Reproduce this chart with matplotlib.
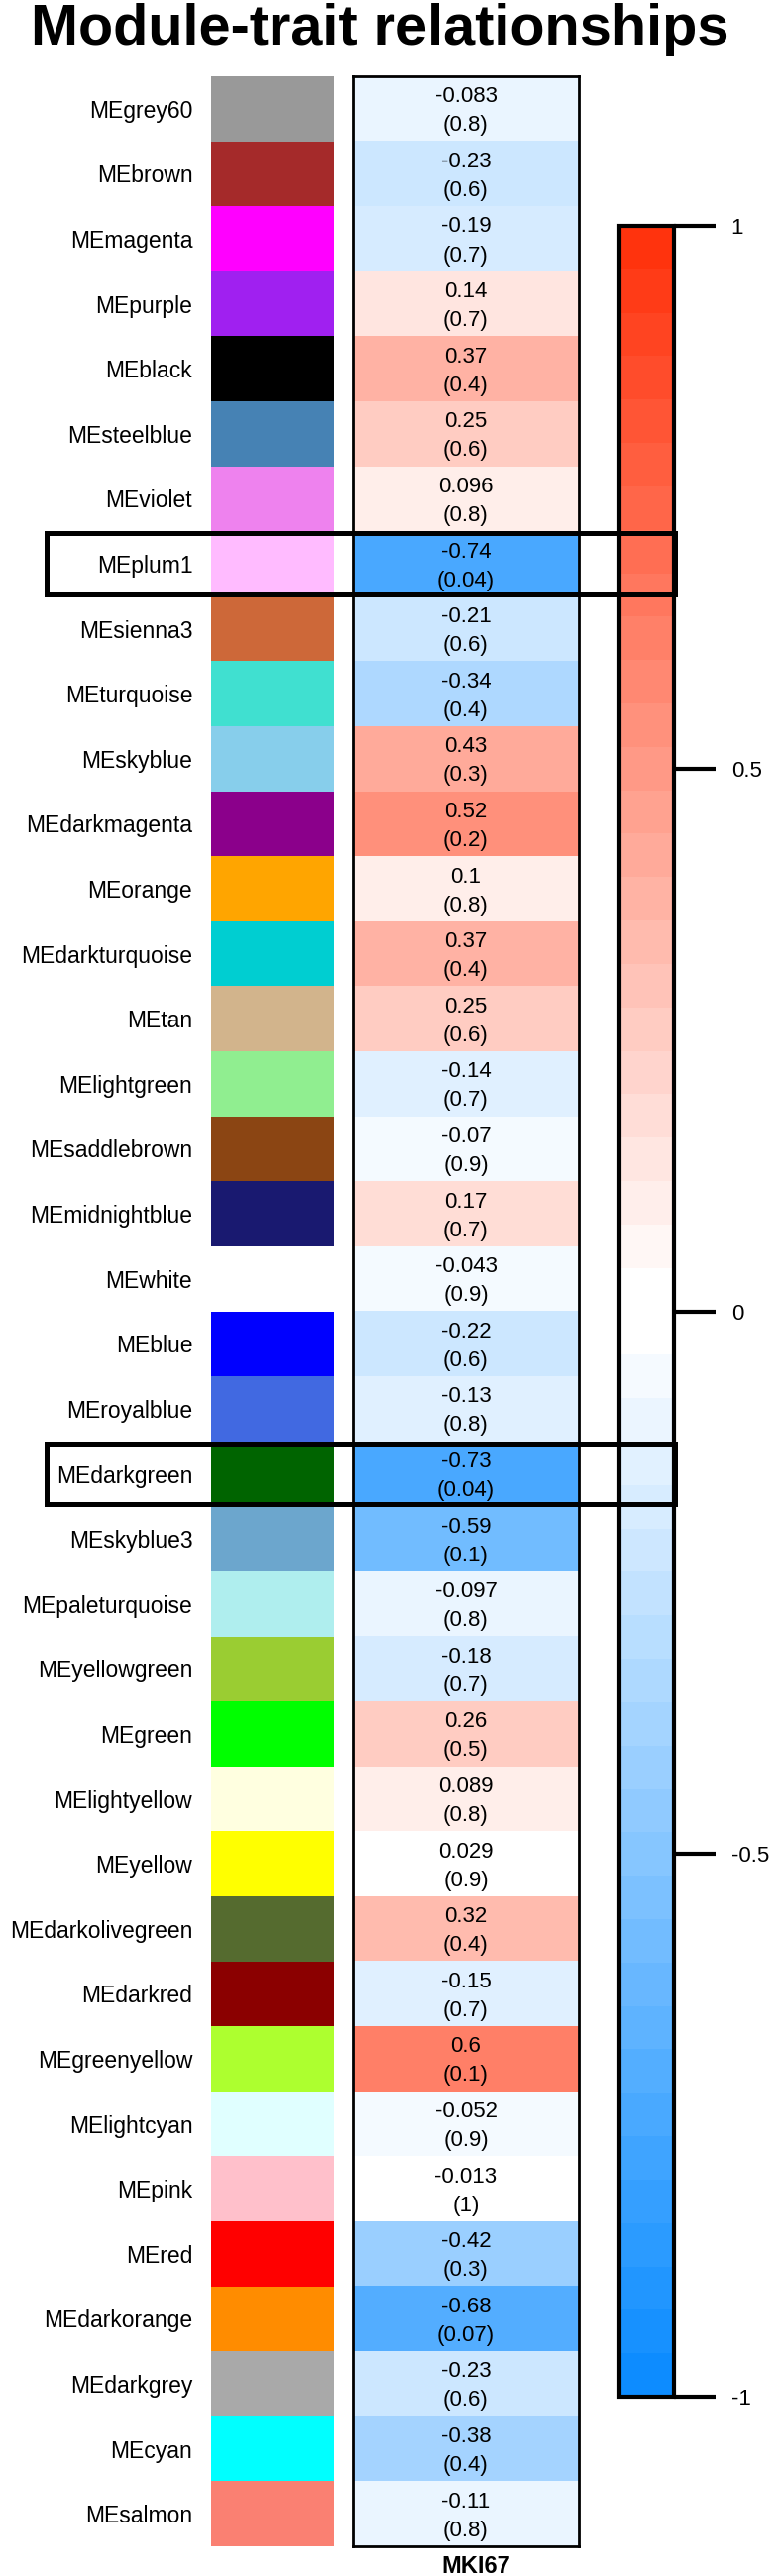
import numpy as np
import matplotlib
matplotlib.use("Agg")
import matplotlib.pyplot as plt
from matplotlib.colors import ListedColormap, Normalize
from matplotlib.cm import ScalarMappable
from matplotlib.patches import Rectangle
from matplotlib.transforms import blended_transform_factory

plt.rcParams['font.family'] = ['Liberation Sans', 'DejaVu Sans']

# ---------------- data ----------------
modules = ["MEgrey60", "MEbrown", "MEmagenta", "MEpurple", "MEblack", "MEsteelblue",
           "MEviolet", "MEplum1", "MEsienna3", "MEturquoise", "MEskyblue", "MEdarkmagenta",
           "MEorange", "MEdarkturquoise", "MEtan", "MElightgreen", "MEsaddlebrown",
           "MEmidnightblue", "MEwhite", "MEblue", "MEroyalblue", "MEdarkgreen", "MEskyblue3",
           "MEpaleturquoise", "MEyellowgreen", "MEgreen", "MElightyellow", "MEyellow",
           "MEdarkolivegreen", "MEdarkred", "MEgreenyellow", "MElightcyan", "MEpink", "MEred",
           "MEdarkorange", "MEdarkgrey", "MEcyan", "MEsalmon"]
module_colors = ["#999999", "#A52A2A", "#FF00FF", "#A020F0", "#000000", "#4682B4",
                 "#EE82EE", "#FFBBFF", "#CD6839", "#40E0D0", "#87CEEB", "#8B008B",
                 "#FFA500", "#00CED1", "#D2B48C", "#90EE90", "#8B4513",
                 "#191970", "#FFFFFF", "#0000FF", "#4169E1", "#006400", "#6CA6CD",
                 "#AFEEEE", "#9ACD32", "#00FF00", "#FFFFE0", "#FFFF00",
                 "#556B2F", "#8B0000", "#ADFF2F", "#E0FFFF", "#FFC0CB", "#FF0000",
                 "#FF8C00", "#A9A9A9", "#00FFFF", "#FA8072"]
corr = [-0.083, -0.23, -0.19, 0.14, 0.37, 0.25,
        0.096, -0.74, -0.21, -0.34, 0.43, 0.52,
        0.1, 0.37, 0.25, -0.14, -0.07,
        0.17, -0.043, -0.22, -0.13, -0.73, -0.59,
        -0.097, -0.18, 0.26, 0.089, 0.029,
        0.32, -0.15, 0.6, -0.052, -0.013, -0.42,
        -0.68, -0.23, -0.38, -0.11]
pvals = [0.8, 0.6, 0.7, 0.7, 0.4, 0.6,
         0.8, 0.04, 0.6, 0.4, 0.3, 0.2,
         0.8, 0.4, 0.6, 0.7, 0.9,
         0.7, 0.9, 0.6, 0.8, 0.04, 0.1,
         0.8, 0.7, 0.5, 0.8, 0.9,
         0.4, 0.7, 0.1, 0.9, 1, 0.3,
         0.07, 0.6, 0.4, 0.8]
trait = "MKI67"
highlighted = ["MEplum1", "MEdarkgreen"]
cbar_ticks = [-1, -0.5, 0, 0.5, 1]
cbar_ticklabels = ["-1", "-0.5", "0", "0.5", "1"]
title = "Module-trait relationships"

# ---------------- colormap (blue-white-red, 50 levels) ----------------
blue_end = np.array([0.05, 0.55, 1.0])
red_end = np.array([1.0, 0.2, 0.05])
white = np.array([1.0, 1.0, 1.0])
half = 25
frac = np.arange(half) / (half - 1)
blues = [blue_end + (white - blue_end) * f for f in frac]
reds = [white + (red_end - white) * f for f in frac]
cmap = ListedColormap(blues + reds)
norm = Normalize(vmin=-1, vmax=1)

# ---------------- figure ----------------
W, H = 788, 2600
fig = plt.figure(figsize=(W / 100, H / 100), dpi=100)

def box(x0, y0, x1, y1):
    return [x0 / W, 1 - y1 / H, (x1 - x0) / W, (y1 - y0) / H]

n = len(modules)
top, bottom = 77, 2570

# module colour column
ax_col = fig.add_axes(box(213, top, 337, bottom))
ax_col.barh(np.arange(n), width=1, height=1, left=0, color=module_colors, linewidth=0)
ax_col.set_xlim(0, 1)
ax_col.set_ylim(n - 0.5, -0.5)
for s in ax_col.spines.values():
    s.set_visible(False)
ax_col.set_xticks([])
ax_col.set_yticks(np.arange(n))
ax_col.set_yticklabels(modules, fontsize=16.5)
ax_col.tick_params(axis='y', length=0, pad=13.5)

# heatmap
ax_h = fig.add_axes(box(356, top, 584, bottom))
ax_h.imshow(np.array(corr).reshape(-1, 1), cmap=cmap, norm=norm, aspect='auto',
            extent=(-0.5, 0.5, n - 0.5, -0.5), interpolation='nearest')
ax_h.set_xlim(-0.5, 0.5)
ax_h.set_ylim(n - 0.5, -0.5)
for s in ax_h.spines.values():
    s.set_linewidth(2)
ax_h.set_yticks([])
ax_h.set_xticks([])
for i, (c, p) in enumerate(zip(corr, pvals)):
    ax_h.annotate(f"{c:g}", (0, i), xytext=(0, 4.7), textcoords='offset points',
                  ha='center', va='baseline', fontsize=16)
    ax_h.annotate(f"({p:g})", (0, i), xytext=(0, -16.2), textcoords='offset points',
                  ha='center', va='baseline', fontsize=16)

# trait label under the heatmap
fig.text(480 / W, 1 - 2597 / H, trait, ha='center', va='baseline',
         fontsize=17, fontweight='bold')

# colour bar
cax = fig.add_axes(box(625, 228, 680, 2419))
cb = fig.colorbar(ScalarMappable(norm=norm, cmap=cmap), cax=cax, ticks=cbar_ticks)
cb.set_ticklabels(cbar_ticklabels)
cb.outline.set_linewidth(3)
cb.ax.tick_params(length=30, width=3, pad=11.5, labelsize=16)

# highlight boxes
tr = blended_transform_factory(fig.transFigure, ax_h.transData)
for name in highlighted:
    i = modules.index(name)
    rect = Rectangle((47 / W, i - 0.47), (681 - 47) / W, 0.94, transform=tr,
                     fill=False, edgecolor='black', linewidth=3.6, zorder=10)
    fig.add_artist(rect)

# title
fig.text(383 / W, 1 - 45 / H, title, ha='center', va='baseline',
         fontsize=41.5, fontweight='bold')

fig.savefig("out.png", dpi=100)
